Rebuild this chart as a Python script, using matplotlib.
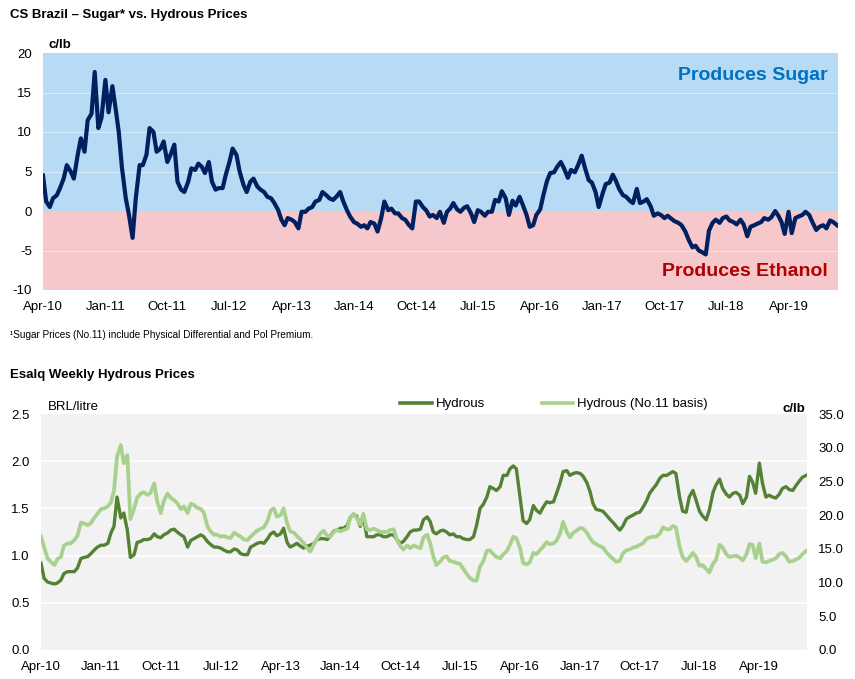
import numpy as np
import pandas as pd
import matplotlib
matplotlib.use("Agg")
import matplotlib.pyplot as plt
import matplotlib.dates as mdates
from matplotlib.lines import Line2D

plt.rcParams['font.family'] = ['Liberation Sans', 'DejaVu Sans']
plt.rcParams['axes.unicode_minus'] = False

# semi-monthly observations, Apr-2010 .. Nov-2019
start = "2010-04-01"

# sugar minus hydrous parity, c/lb
sugar_premium = [
    4.5, 1.2, 0.5, 1.6, 2.0, 2.9, 4.1, 5.8, 5.0, 4.1, 7.1, 9.2,
    7.5, 11.5, 12.3, 17.6, 10.5, 11.8, 16.6, 12.5, 15.8, 13.0, 10.0, 5.5,
    1.6, -0.5, -3.4, 1.6, 5.8, 5.8, 7.1, 10.5, 10.0, 7.5, 7.9, 8.8,
    6.2, 7.1, 8.4, 3.7, 2.7, 2.4, 3.7, 5.4, 5.2, 6.0, 5.6, 4.8,
    6.2, 3.7, 2.7, 2.9, 2.9, 4.6, 6.2, 7.9, 7.1, 5.0, 3.3, 2.4,
    3.7, 4.1, 3.1, 2.7, 2.4, 1.8, 1.6, 1.0, 0.1, -1.1, -1.8, -0.9,
    -1.1, -1.4, -2.2, -0.1, -0.1, 0.3, 0.5, 1.2, 1.4, 2.4, 2.0, 1.6,
    1.4, 1.8, 2.4, 1.2, 0.1, -0.7, -1.4, -1.6, -2.0, -1.8, -2.2, -1.4,
    -1.6, -2.6, -0.9, 1.2, 0.1, 0.3, -0.3, -0.3, -0.9, -1.1, -1.8, -2.2,
    1.2, 1.2, 0.5, 0.1, -0.7, -0.5, -0.9, -0.1, -1.5, -0.1, 0.3, 1.0,
    0.2, -0.1, 0.4, 0.6, -0.3, -1.4, 0.1, -0.1, -0.6, -0.1, -0.1, 1.4,
    1.2, 2.5, 1.6, -0.5, 1.3, 0.7, 1.8, 0.8, -0.5, -2.0, -1.8, -0.5,
    0.2, 2.0, 3.8, 4.8, 4.9, 5.6, 6.2, 5.4, 4.2, 5.2, 4.9, 5.8,
    7.0, 5.5, 3.9, 3.6, 2.4, 0.5, 2.2, 3.4, 3.6, 4.6, 3.8, 2.8,
    2.0, 1.8, 1.3, 1.0, 2.8, 1.0, 1.2, 1.5, 0.6, -0.6, -0.3, -0.5,
    -0.9, -0.6, -1.0, -1.3, -1.5, -1.8, -2.6, -3.6, -4.6, -4.4, -5.0, -5.2,
    -5.5, -2.5, -1.5, -1.1, -1.5, -0.9, -0.7, -1.2, -1.4, -1.7, -1.1, -1.7,
    -3.2, -2.0, -1.8, -1.6, -1.4, -0.9, -1.1, -0.8, 0.0, -0.6, -1.4, -2.9,
    -0.1, -2.8, -0.9, -0.7, -0.5, -0.1, -0.5, -1.4, -2.4, -2.0, -1.8, -2.2,
    -1.2, -1.4, -1.8,
]

# Esalq hydrous, BRL/litre
hydrous = [
    0.92, 0.76, 0.72, 0.71, 0.70, 0.71, 0.74, 0.81, 0.83, 0.83, 0.83, 0.87,
    0.97, 0.98, 0.99, 1.02, 1.06, 1.09, 1.11, 1.11, 1.13, 1.24, 1.31, 1.62,
    1.40, 1.45, 1.27, 0.98, 1.01, 1.14, 1.15, 1.17, 1.17, 1.18, 1.23, 1.20,
    1.19, 1.22, 1.24, 1.27, 1.28, 1.25, 1.22, 1.20, 1.09, 1.16, 1.18, 1.20,
    1.22, 1.20, 1.15, 1.12, 1.09, 1.09, 1.08, 1.06, 1.04, 1.04, 1.07, 1.06,
    1.02, 1.01, 1.01, 1.09, 1.11, 1.13, 1.14, 1.13, 1.18, 1.23, 1.25, 1.21,
    1.23, 1.29, 1.14, 1.09, 1.11, 1.13, 1.10, 1.08, 1.10, 1.11, 1.13, 1.17,
    1.18, 1.18, 1.17, 1.21, 1.26, 1.27, 1.29, 1.29, 1.32, 1.41, 1.43, 1.42,
    1.31, 1.42, 1.20, 1.20, 1.20, 1.22, 1.22, 1.20, 1.20, 1.22, 1.22, 1.17,
    1.13, 1.15, 1.20, 1.25, 1.27, 1.27, 1.28, 1.38, 1.41, 1.36, 1.25, 1.23,
    1.26, 1.27, 1.25, 1.22, 1.23, 1.20, 1.20, 1.18, 1.17, 1.17, 1.20, 1.32,
    1.50, 1.54, 1.62, 1.73, 1.71, 1.69, 1.73, 1.85, 1.85, 1.92, 1.95, 1.92,
    1.62, 1.37, 1.34, 1.38, 1.53, 1.48, 1.45, 1.51, 1.57, 1.56, 1.57, 1.66,
    1.77, 1.89, 1.90, 1.85, 1.87, 1.88, 1.87, 1.84, 1.77, 1.68, 1.55, 1.49,
    1.48, 1.47, 1.43, 1.39, 1.35, 1.31, 1.27, 1.31, 1.39, 1.41, 1.43, 1.45,
    1.46, 1.51, 1.58, 1.66, 1.71, 1.75, 1.82, 1.85, 1.85, 1.87, 1.89, 1.87,
    1.62, 1.47, 1.46, 1.62, 1.69, 1.59, 1.47, 1.42, 1.38, 1.48, 1.67, 1.75,
    1.81, 1.71, 1.65, 1.62, 1.66, 1.67, 1.64, 1.55, 1.62, 1.84, 1.78, 1.66,
    1.98, 1.77, 1.62, 1.64, 1.62, 1.61, 1.65, 1.71, 1.73, 1.70, 1.69, 1.74,
    1.79, 1.83, 1.85,
]

# hydrous on No.11 basis, c/lb
hydrous_no11 = [
    16.8, 15.3, 13.6, 13.1, 12.6, 13.5, 13.8, 15.5, 15.8, 15.8, 16.3, 17.0,
    18.9, 18.8, 18.5, 18.8, 19.6, 20.2, 20.9, 21.0, 21.3, 21.9, 23.6, 28.7,
    30.4, 27.7, 28.9, 19.4, 21.0, 22.6, 23.2, 23.4, 23.0, 23.3, 24.7, 22.0,
    20.3, 22.1, 23.2, 22.6, 22.2, 21.8, 20.9, 21.3, 20.3, 21.7, 21.5, 21.1,
    20.9, 20.4, 18.4, 17.6, 17.1, 17.1, 16.8, 16.9, 16.7, 16.6, 17.4, 17.1,
    16.8, 16.4, 16.3, 16.8, 17.3, 17.7, 18.0, 18.2, 19.2, 20.7, 21.0, 19.8,
    20.0, 21.0, 18.8, 17.6, 17.4, 16.9, 16.4, 15.9, 15.1, 14.6, 15.7, 16.5,
    17.3, 17.7, 16.9, 16.8, 17.5, 17.8, 17.6, 17.8, 18.0, 19.7, 20.2, 19.6,
    18.6, 20.2, 17.9, 17.8, 18.0, 17.8, 17.5, 17.5, 17.5, 17.8, 17.9, 16.4,
    15.4, 14.9, 15.5, 15.1, 15.5, 15.3, 15.1, 16.7, 17.1, 15.8, 13.9, 12.6,
    13.1, 13.7, 13.9, 13.2, 13.1, 12.9, 12.8, 12.1, 11.3, 10.7, 10.3, 10.3,
    12.4, 13.1, 14.7, 14.8, 14.2, 13.8, 13.6, 14.2, 14.7, 15.6, 16.8, 16.6,
    15.1, 12.9, 12.7, 13.0, 14.4, 14.2, 14.8, 15.3, 16.0, 15.7, 15.8, 16.2,
    17.3, 19.0, 17.5, 16.7, 17.4, 17.7, 18.1, 18.0, 17.4, 16.6, 16.0, 15.7,
    15.4, 15.2, 14.5, 14.0, 13.5, 13.1, 13.2, 14.3, 14.8, 14.9, 15.2, 15.3,
    15.6, 15.8, 16.5, 16.7, 16.8, 16.8, 17.3, 18.2, 17.9, 17.9, 18.4, 18.2,
    15.3, 13.8, 13.2, 13.7, 14.4, 13.8, 12.5, 12.6, 12.0, 11.5, 12.8, 13.4,
    15.6, 15.2, 14.2, 13.8, 13.9, 14.0, 13.7, 13.3, 14.2, 15.7, 15.6, 13.6,
    15.8, 13.1, 13.0, 13.2, 13.4, 13.6, 14.2, 14.4, 13.9, 13.1, 13.2, 13.4,
    13.7, 14.2, 14.7,
]

dates = pd.date_range(start, periods=len(sugar_premium), freq="SMS")
tick_dates = pd.date_range("2010-04-01", "2019-04-01", freq="9MS")
x_end = pd.Timestamp("2019-11-05")

navy = "#002060"
dark_green = "#548235"
light_green = "#a9d18e"

fig = plt.figure(figsize=(8.55, 6.79), dpi=100)
W, H = 855, 679

# ---- top chart ----
ax = fig.add_axes([43 / W, 1 - 290 / H, 795 / W, 237 / H])
ax.axhspan(0, 20, color="#b7dbf4", zorder=0)
ax.axhspan(-10, 0, color="#f6c8cb", zorder=0)
for g in [-5, 5, 10, 15]:
    ax.axhline(g, color="white", lw=0.8, alpha=0.45, zorder=1)
ax.plot(dates, sugar_premium, color=navy, lw=3.0, zorder=3, solid_joinstyle="round")
ax.set_ylim(-10, 20)
ax.set_yticks([-10, -5, 0, 5, 10, 15, 20])
ax.set_xlim(pd.Timestamp(start), x_end)
ax.set_xticks(tick_dates)
ax.xaxis.set_major_formatter(mdates.DateFormatter("%b-%y"))
ax.tick_params(length=0, labelsize=9.5)
ax.tick_params(axis="y", pad=8)
ax.tick_params(axis="x", pad=8)
for s in ax.spines.values():
    s.set_visible(False)
ax.text(0.987, 0.907, "Produces Sugar", transform=ax.transAxes, ha="right",
        va="center", fontsize=14, fontweight="bold", color="#0070c0")
ax.text(0.987, 0.08, "Produces Ethanol", transform=ax.transAxes, ha="right",
        va="center", fontsize=14, fontweight="bold", color="#b00000")

fig.text(10 / W, 1 - 15 / H, "CS Brazil \u2013 Sugar* vs. Hydrous Prices",
         fontsize=9.5, fontweight="bold", va="center")
fig.text(48 / W, 1 - 45 / H, "c/lb", fontsize=9.5, fontweight="bold", va="center")
fig.text(10 / W, 1 - 335 / H,
         "\u00b9Sugar Prices (No.11) include Physical Differential and Pol Premium.",
         fontsize=7.2, va="center")

# ---- bottom chart ----
bx = fig.add_axes([41 / W, 1 - 650 / H, 766 / W, 236 / H])
bx.set_facecolor("#f2f2f2")
for g in [0.5, 1.0, 1.5, 2.0]:
    bx.axhline(g, color="white", lw=1.2, zorder=1)
bx.plot(dates, hydrous, color=dark_green, lw=2.4, zorder=3)
bx.set_ylim(0, 2.5)
bx.set_yticks(np.arange(0, 2.51, 0.5))
bx.yaxis.set_major_formatter(matplotlib.ticker.FormatStrFormatter("%.1f"))
bx.set_xlim(pd.Timestamp(start), x_end)
bx.set_xticks(tick_dates)
bx.xaxis.set_major_formatter(mdates.DateFormatter("%b-%y"))
bx.tick_params(length=0, labelsize=9.5)
bx.tick_params(axis="y", pad=8)
bx.tick_params(axis="x", pad=8)

bx2 = bx.twinx()
bx2.plot(dates, hydrous_no11, color=light_green, lw=2.7, zorder=3)
bx2.set_ylim(0, 35)
bx2.set_yticks(np.arange(0, 35.1, 5))
bx2.yaxis.set_major_formatter(matplotlib.ticker.FormatStrFormatter("%.1f"))
bx2.tick_params(length=0, labelsize=9.5, pad=8)
for a in (bx, bx2):
    for s in a.spines.values():
        s.set_visible(False)

handles = [Line2D([], [], color=dark_green, lw=2.6),
           Line2D([], [], color=light_green, lw=2.6)]
fig.legend(handles, ["Hydrous", "Hydrous (No.11 basis)"], ncol=2,
           loc="center left", bbox_to_anchor=(400 / W, 1 - 404 / H),
           frameon=False, fontsize=9.5, handlelength=2.4, handletextpad=0.3,
           columnspacing=4.3, borderpad=0, borderaxespad=0)

fig.text(10 / W, 1 - 375 / H, "Esalq Weekly Hydrous Prices",
         fontsize=9.5, fontweight="bold", va="center")
fig.text(48 / W, 1 - 407 / H, "BRL/litre", fontsize=9.5, va="center")
fig.text(805 / W, 1 - 409 / H, "c/lb", fontsize=9.5, fontweight="bold",
         va="center", ha="right")

fig.savefig("out.png", dpi=100)
